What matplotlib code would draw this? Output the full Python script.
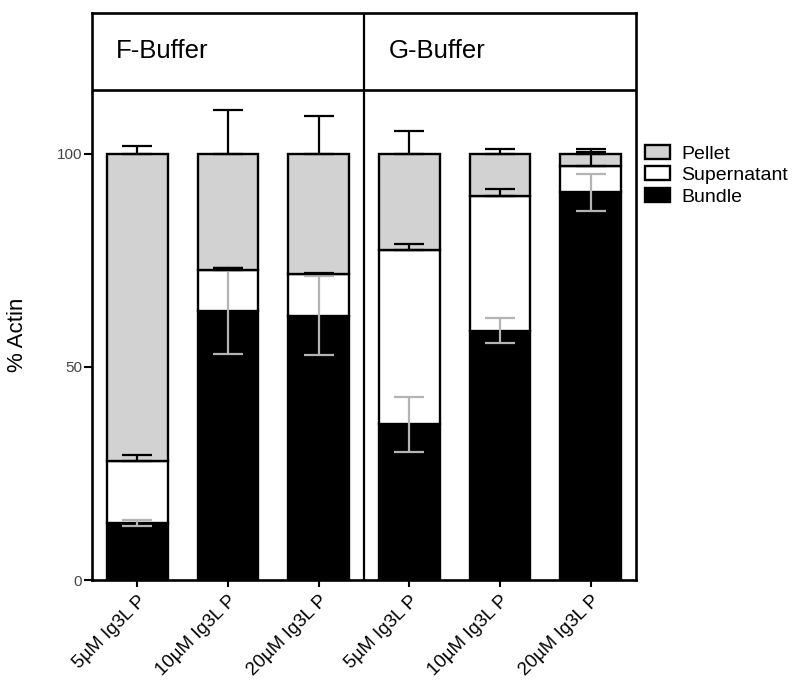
import matplotlib
matplotlib.use('Agg')
import matplotlib.pyplot as plt
import matplotlib.patches as mpatches
import numpy as np

plt.rcParams['font.family'] = ['Liberation Sans', 'DejaVu Sans']

labels = ['5\u00b5M Ig3L P', '10\u00b5M Ig3L P', '20\u00b5M Ig3L P',
          '5\u00b5M Ig3L P', '10\u00b5M Ig3L P', '20\u00b5M Ig3L P']
groups = ['F-Buffer', 'G-Buffer']

bundle = [13.3, 63.2, 62.0, 36.5, 58.5, 90.9]
supernatant = [14.6, 9.4, 9.7, 40.8, 31.5, 6.1]
pellet = [72.1, 27.4, 28.3, 22.7, 10.0, 3.0]

bundle_err = [0.7, 10.3, 9.3, 6.5, 3.0, 4.4]
supernatant_err = [1.4, 0.5, 0.3, 1.4, 1.6, 4.2]
pellet_err = [1.9, 10.3, 8.9, 5.4, 1.2, 0.3]

x = np.arange(len(labels))
bundle = np.array(bundle)
supernatant = np.array(supernatant)
pellet = np.array(pellet)
zero = np.zeros(len(x))

fig = plt.figure(figsize=(7.92, 6.83), dpi=100)
ax = fig.add_axes([92/792, 103/683, 544/792, 567/683])

w = 0.67
lw = 1.7
ax.bar(x, bundle, w, color='black', edgecolor='black', linewidth=lw, zorder=2)
ax.bar(x, supernatant, w, bottom=bundle, color='white', edgecolor='black', linewidth=lw, zorder=2)
ax.bar(x, pellet, w, bottom=bundle + supernatant, color='#d2d2d2', edgecolor='black', linewidth=lw, zorder=2)

# error bars: bundle both ways (grey), the others upward only (black)
ax.errorbar(x, bundle, yerr=bundle_err, fmt='none', ecolor='#b4b4b4',
            elinewidth=1.6, capsize=11, capthick=1.6, zorder=3)
ax.errorbar(x, bundle + supernatant, yerr=[zero, supernatant_err], fmt='none', ecolor='black',
            elinewidth=1.6, capsize=11, capthick=1.6, zorder=3)
ax.errorbar(x, bundle + supernatant + pellet, yerr=[zero, pellet_err], fmt='none', ecolor='black',
            elinewidth=1.6, capsize=11, capthick=1.6, zorder=3)

ax.set_xlim(-0.5, 5.5)
ax.set_ylim(0, 133)

# header box and divider
ax.axhline(115, color='black', linewidth=1.9, zorder=4)
ax.axvline(2.5, color='black', linewidth=1.6, zorder=4)
ax.text(-0.24, 124, groups[0], fontsize=18.5, va='center', ha='left')
ax.text(2.77, 124, groups[1], fontsize=18.5, va='center', ha='left')

for s in ax.spines.values():
    s.set_linewidth(1.9)

ax.set_yticks([0, 50, 100])
ax.tick_params(axis='y', direction='out', length=6, width=1.5, labelsize=11, labelcolor='#444444', pad=1)
ax.set_xticks(x)
ax.set_xticklabels(labels, rotation=45, ha='right', va='top', rotation_mode='anchor', fontsize=13.5)
ax.tick_params(axis='x', direction='out', length=5, width=1.5, pad=4)

ax.set_ylabel('% Actin', fontsize=16)
ax.yaxis.set_label_coords(-0.118, 57.5/133)

handles = [mpatches.Patch(facecolor='#d2d2d2', edgecolor='black', linewidth=1.7, label='Pellet'),
           mpatches.Patch(facecolor='white', edgecolor='black', linewidth=1.7, label='Supernatant'),
           mpatches.Patch(facecolor='black', edgecolor='black', linewidth=1.7, label='Bundle')]
fig.legend(handles=handles, loc='upper left', bbox_to_anchor=(645/792, 1 - 145/683),
           frameon=False, fontsize=14, handlelength=1.3, handleheight=0.7,
           handletextpad=0.55, labelspacing=0.2, borderpad=0, borderaxespad=0)

fig.savefig('out.png', dpi=100)
